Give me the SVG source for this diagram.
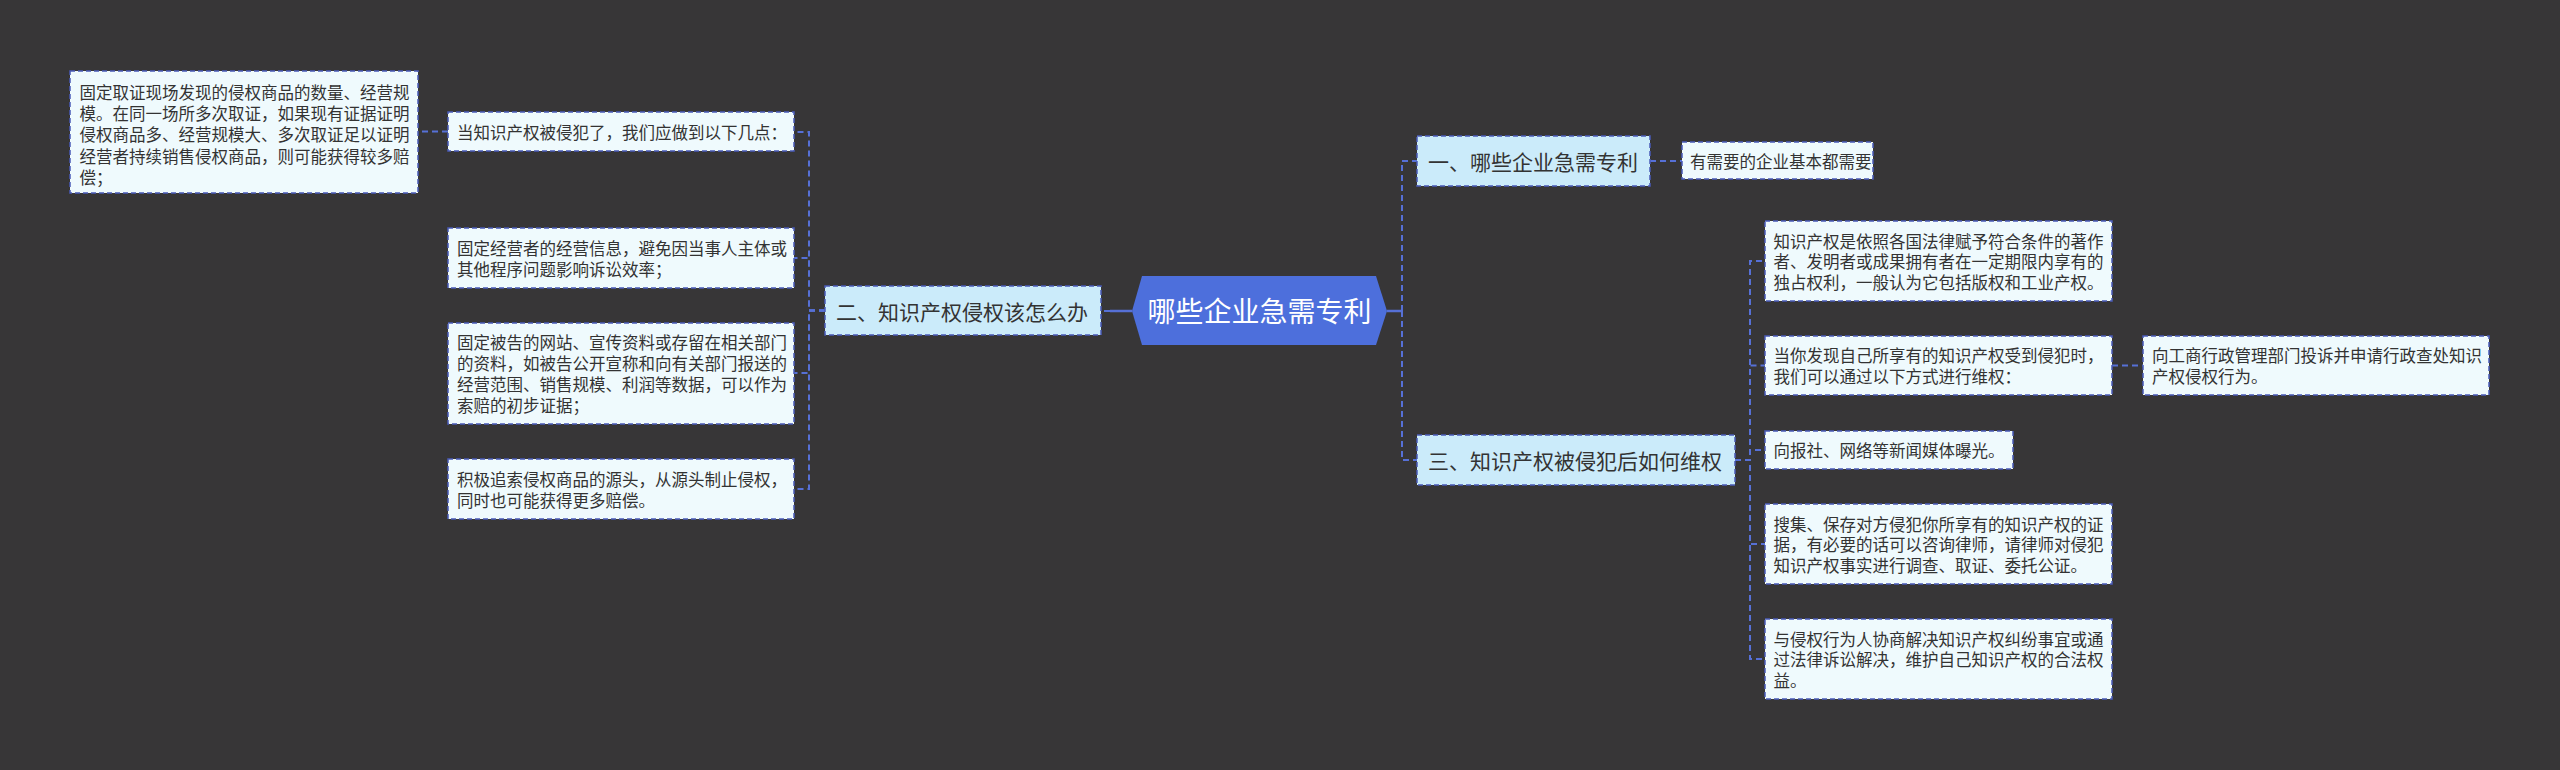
<svg xmlns="http://www.w3.org/2000/svg" width="2560" height="770" viewBox="0 0 2560 770">
<style>
.bg{fill:#373637}
.leaf{fill:#EFFAFD;stroke:#4A5BB8;stroke-width:1.5;stroke-dasharray:5 3}
.branch{fill:#CBEBFA;stroke:#4A5BB8;stroke-width:1.5;stroke-dasharray:5 3}
.root{fill:#4D6FDC}
.t{font-family:"Noto Sans CJK SC","Noto Sans",sans-serif;fill:#333;dominant-baseline:central}
.lt{font-size:16.5px}
.bt{font-size:21px}
.rt{font-size:28px;fill:#fff;text-anchor:middle}
.c{fill:none;stroke:#5670D6;stroke-width:2;stroke-dasharray:6 4}
.s{fill:none;stroke:#5670D6;stroke-width:2.5}
</style>
<rect class="bg" x="0" y="0" width="2560" height="770"/>
<g id="connectors">
<path class="s" d="M1110 311 H1132"/>
<path class="c" d="M1110 311 H1101"/>
<path class="s" d="M1387 311 H1402"/>
<path class="c" d="M825 310.5 H809 V132 H794"/>
<path class="c" d="M825 310.5 H809 V258 H794"/>
<path class="c" d="M825 310.5 H809 V373 H794"/>
<path class="c" d="M825 310.5 H809 V489 H794"/>
<path class="c" d="M448 131.5 H418"/>
<path class="c" d="M1402 311 V161 H1417"/>
<path class="c" d="M1402 311 V460 H1417"/>
<path class="c" d="M1650 161 H1682"/>
<path class="c" d="M1735 460 H1750 V261 H1765"/>
<path class="c" d="M1735 460 H1750 V365.5 H1765"/>
<path class="c" d="M1735 460 H1750 V450 H1765"/>
<path class="c" d="M1735 460 H1750 V544 H1765"/>
<path class="c" d="M1735 460 H1750 V659 H1765"/>
<path class="c" d="M2112 365.5 H2143"/>
</g>
<g id="root">
<polygon class="root" points="1132,311 1142,276 1376,276 1387,311 1376,345 1142,345"/>
<text class="t rt" x="1259.5" y="310">哪些企业急需专利</text>
</g>
<g id="b2">
<rect class="branch" x="825" y="286" width="276" height="49"/>
<text class="t bt" x="836" y="310.5">二、知识产权侵权该怎么办</text>
</g>
<g id="l0">
<rect class="leaf" x="448" y="112" width="346" height="39"/>
<text class="t lt" x="457" y="131.5">当知识产权被侵犯了，我们应做到以下几点：</text>
</g>
<g id="l1">
<rect class="leaf" x="70" y="71" width="348" height="122"/>
<text class="t lt" x="79.5" y="91.7">固定取证现场发现的侵权商品的数量、经营规</text>
<text class="t lt" x="79.5" y="113">模。在同一场所多次取证，如果现有证据证明</text>
<text class="t lt" x="79.5" y="134.2">侵权商品多、经营规模大、多次取证足以证明</text>
<text class="t lt" x="79.5" y="155.5">经营者持续销售侵权商品，则可能获得较多赔</text>
<text class="t lt" x="79.5" y="176.7">偿；</text>
</g>
<g id="l2">
<rect class="leaf" x="448" y="228" width="346" height="60"/>
<text class="t lt" x="457" y="247.5">固定经营者的经营信息，避免因当事人主体或</text>
<text class="t lt" x="457" y="268.5">其他程序问题影响诉讼效率；</text>
</g>
<g id="l3">
<rect class="leaf" x="448" y="323" width="346" height="101"/>
<text class="t lt" x="457" y="341.5">固定被告的网站、宣传资料或存留在相关部门</text>
<text class="t lt" x="457" y="362.8">的资料，如被告公开宣称和向有关部门报送的</text>
<text class="t lt" x="457" y="384.1">经营范围、销售规模、利润等数据，可以作为</text>
<text class="t lt" x="457" y="405.4">索赔的初步证据；</text>
</g>
<g id="l4">
<rect class="leaf" x="448" y="459" width="346" height="60"/>
<text class="t lt" x="457" y="478.5">积极追索侵权商品的源头，从源头制止侵权，</text>
<text class="t lt" x="457" y="499.5">同时也可能获得更多赔偿。</text>
</g>
<g id="b1">
<rect class="branch" x="1417" y="136" width="233" height="50"/>
<text class="t bt" x="1428" y="161">一、哪些企业急需专利</text>
</g>
<g id="r1">
<rect class="leaf" x="1682" y="142" width="191" height="37"/>
<text class="t lt" x="1690" y="160.5">有需要的企业基本都需要</text>
</g>
<g id="b3">
<rect class="branch" x="1417" y="435" width="318" height="50"/>
<text class="t bt" x="1428" y="460">三、知识产权被侵犯后如何维权</text>
</g>
<g id="r3a">
<rect class="leaf" x="1765" y="221" width="347" height="80"/>
<text class="t lt" x="1773.5" y="240.5">知识产权是依照各国法律赋予符合条件的著作</text>
<text class="t lt" x="1773.5" y="261">者、发明者或成果拥有者在一定期限内享有的</text>
<text class="t lt" x="1773.5" y="281.5">独占权利，一般认为它包括版权和工业产权。</text>
</g>
<g id="r3b">
<rect class="leaf" x="1765" y="336" width="347" height="59"/>
<text class="t lt" x="1773.5" y="355">当你发现自己所享有的知识产权受到侵犯时，</text>
<text class="t lt" x="1773.5" y="376">我们可以通过以下方式进行维权：</text>
</g>
<g id="r3b1">
<rect class="leaf" x="2143" y="336" width="346" height="59"/>
<text class="t lt" x="2152" y="355">向工商行政管理部门投诉并申请行政查处知识</text>
<text class="t lt" x="2152" y="376">产权侵权行为。</text>
</g>
<g id="r3c">
<rect class="leaf" x="1765" y="431" width="248" height="38"/>
<text class="t lt" x="1773.5" y="450">向报社、网络等新闻媒体曝光。</text>
</g>
<g id="r3d">
<rect class="leaf" x="1765" y="504" width="347" height="80"/>
<text class="t lt" x="1773.5" y="523.5">搜集、保存对方侵犯你所享有的知识产权的证</text>
<text class="t lt" x="1773.5" y="544">据，有必要的话可以咨询律师，请律师对侵犯</text>
<text class="t lt" x="1773.5" y="564.5">知识产权事实进行调查、取证、委托公证。</text>
</g>
<g id="r3e">
<rect class="leaf" x="1765" y="619" width="347" height="80"/>
<text class="t lt" x="1773.5" y="638.5">与侵权行为人协商解决知识产权纠纷事宜或通</text>
<text class="t lt" x="1773.5" y="659">过法律诉讼解决，维护自己知识产权的合法权</text>
<text class="t lt" x="1773.5" y="679.5">益。</text>
</g>
</svg>
